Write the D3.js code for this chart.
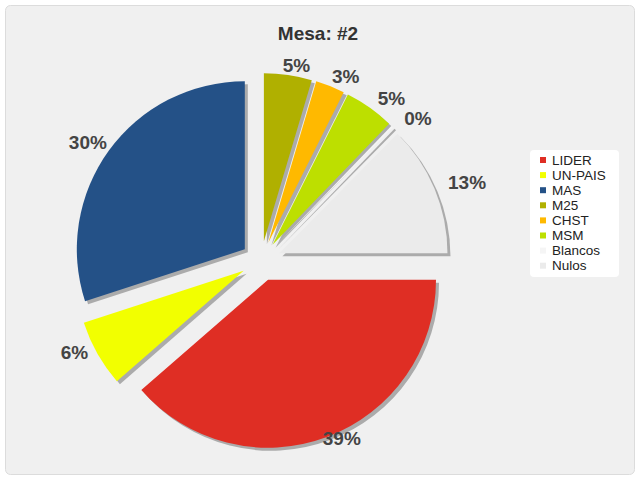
<!DOCTYPE html>
<html>
<head>
<meta charset="utf-8">
<script src="https://cdnjs.cloudflare.com/ajax/libs/d3/7.8.5/d3.min.js"></script>
<style>
  body { margin: 0; background: #fff; }
  svg { display: block; }
</style>
</head>
<body>
<svg id="chart" width="640" height="480"></svg>
<script>
// data
const categories = ["LIDER", "UN-PAIS", "MAS", "M25", "CHST", "MSM", "Blancos", "Nulos"];
const votes = [193, 32, 150, 23, 14, 24, 1, 63];
const colors = ["#df2e24", "#f2ff00", "#245187", "#b0b000", "#ffb900", "#bddf00", "#f5f5f5", "#ebebeb"];
const title = "Mesa: #2";

const svg = d3.select("#chart");
const width = 640, height = 480;

// frame
svg.append("rect")
  .attr("x", 5.5).attr("y", 5.5)
  .attr("width", width - 11).attr("height", height - 11)
  .attr("rx", 5)
  .attr("fill", "#f0f0f0")
  .attr("stroke", "#dcdcdc");

svg.append("text")
  .attr("x", 318).attr("y", 33)
  .attr("text-anchor", "middle")
  .attr("dominant-baseline", "central")
  .attr("font-family", "Liberation Sans, Arial, sans-serif")
  .attr("font-weight", "bold")
  .attr("font-size", 19)
  .attr("fill", "#333")
  .text(title);

// pie
const cx = 261, cy = 261, radius = 168, margin = 20;
const total = d3.sum(votes);
const data = categories.map((c, i) => ({ name: c, value: votes[i], color: colors[i] }));

const pie = d3.pie()
  .value(d => d.value)
  .sort(null)
  .startAngle(Math.PI / 2)
  .endAngle(Math.PI / 2 + 2 * Math.PI);

const arc = d3.arc().innerRadius(0).outerRadius(radius);
const arcs = pie(data);
const mid = d => (d.startAngle + d.endAngle) / 2;

const offset = d => [Math.sin(mid(d)) * margin, -Math.cos(mid(d)) * margin];

const g = svg.append("g").attr("transform", `translate(${cx},${cy})`);

// shadows
g.selectAll("path.shadow")
  .data(arcs)
  .join("path")
  .attr("class", "shadow")
  .attr("d", arc)
  .attr("fill", "#ababab")
  .attr("transform", d => {
    const [dx, dy] = offset(d);
    return `translate(${dx + 3},${dy + 3})`;
  });

// slices
g.selectAll("path.slice")
  .data(arcs)
  .join("path")
  .attr("class", "slice")
  .attr("d", arc)
  .attr("fill", d => d.data.color)
  .attr("transform", d => {
    const [dx, dy] = offset(d);
    return `translate(${dx},${dy})`;
  });

// labels sit on a slightly wide ring around the pie
const labelRx = 219, labelRy = 194, lx = 4, ly = -4;
g.selectAll("text.lbl")
  .data(arcs)
  .join("text")
  .attr("class", "lbl")
  .attr("x", d => lx + Math.sin(mid(d)) * labelRx)
  .attr("y", d => ly - Math.cos(mid(d)) * labelRy)
  .attr("text-anchor", "middle")
  .attr("dominant-baseline", "central")
  .attr("font-family", "Liberation Sans, Arial, sans-serif")
  .attr("font-weight", "bold")
  .attr("font-size", 19)
  .attr("fill", "#444")
  .text(d => Math.round(d.data.value / total * 100) + "%");

// legend
const legend = svg.append("g").attr("transform", "translate(530,150)");
legend.append("rect")
  .attr("width", 89).attr("height", 127)
  .attr("rx", 4)
  .attr("fill", "#fff");

const item = legend.selectAll("g.item")
  .data(data)
  .join("g")
  .attr("class", "item")
  .attr("transform", (d, i) => `translate(0,${10 + i * 15.1})`);

item.append("rect")
  .attr("x", 10).attr("y", -3)
  .attr("width", 6).attr("height", 6)
  .attr("fill", d => d.color);

item.append("text")
  .attr("x", 22)
  .attr("dominant-baseline", "central")
  .attr("font-family", "Liberation Sans, Arial, sans-serif")
  .attr("font-size", 13.5)
  .attr("fill", "#222")
  .text(d => d.name);
</script>
</body>
</html>
